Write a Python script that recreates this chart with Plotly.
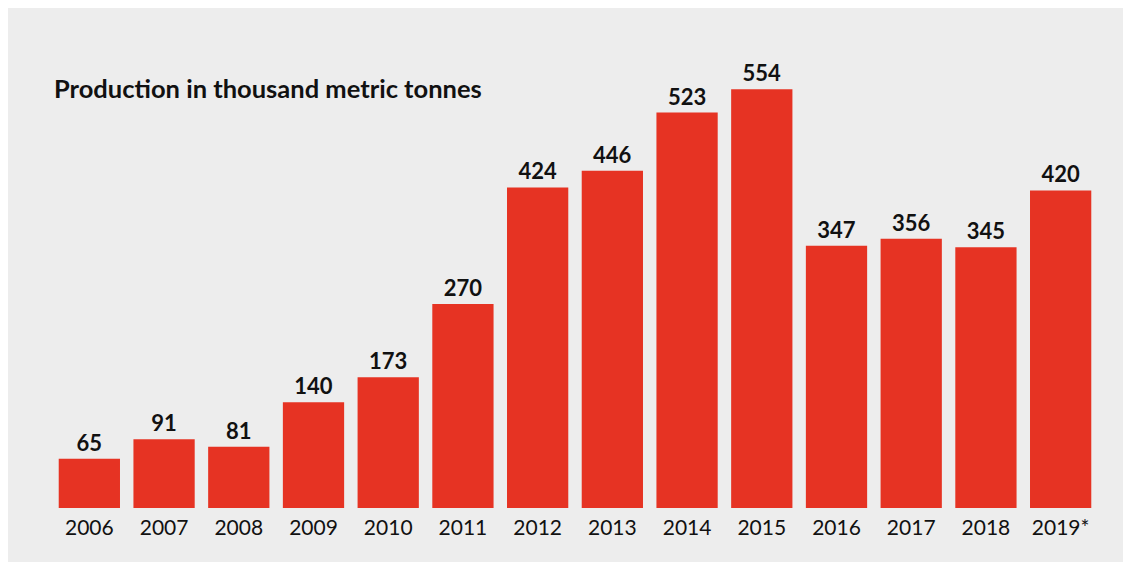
import plotly.graph_objects as go

years = ["2006", "2007", "2008", "2009", "2010", "2011", "2012", "2013",
         "2014", "2015", "2016", "2017", "2018", "2019*"]
production = [65, 91, 81, 140, 173, 270, 424, 446, 523, 554, 347, 356, 345, 420]
title_text = "Production in thousand metric tonnes"

# page has an 8px body margin; figure drawn from (8, 8)
OFF = 8
W, H = 1131 - OFF, 562 - OFF
L, R, T, B = 52 - OFF, 33, 60 - OFF, 54
pw, ph = W - L - R, H - T - B

def px_x(x):
    return (x - OFF - L) / pw

def px_y(y):
    return (H - B - (y - OFF)) / ph

fig = go.Figure(go.Bar(
    x=years, y=production,
    marker=dict(color="#e63323", line=dict(width=0)),
    text=[str(v) for v in production],
    textposition="outside",
    textfont=dict(family="Lato", size=22, color="#111111", weight="bold"),
    cliponaxis=False,
    hoverinfo="skip",
))

fig.update_layout(
    width=W, height=H,
    margin=dict(l=L, r=R, t=T, b=B),
    paper_bgcolor="#ededed",
    plot_bgcolor="rgba(0,0,0,0)",
    bargap=0.18,
    showlegend=False,
    font=dict(family="Lato", color="#111111"),
    xaxis=dict(range=[-0.5, 13.5], showgrid=False, zeroline=False, showline=False,
               ticks="", ticklabelstandoff=5,
               tickfont=dict(family="Lato", size=21, color="#111111")),
    yaxis=dict(range=[0, ph / 0.756], visible=False, showgrid=False, zeroline=False),
    annotations=[dict(text="<b>" + title_text + "</b>", xref="paper", yref="paper",
                      x=px_x(52), y=px_y(88), xanchor="left", yanchor="middle",
                      showarrow=False, font=dict(family="Lato", size=25.5, color="#111111"))],
)

fig.write_html("out.html")
